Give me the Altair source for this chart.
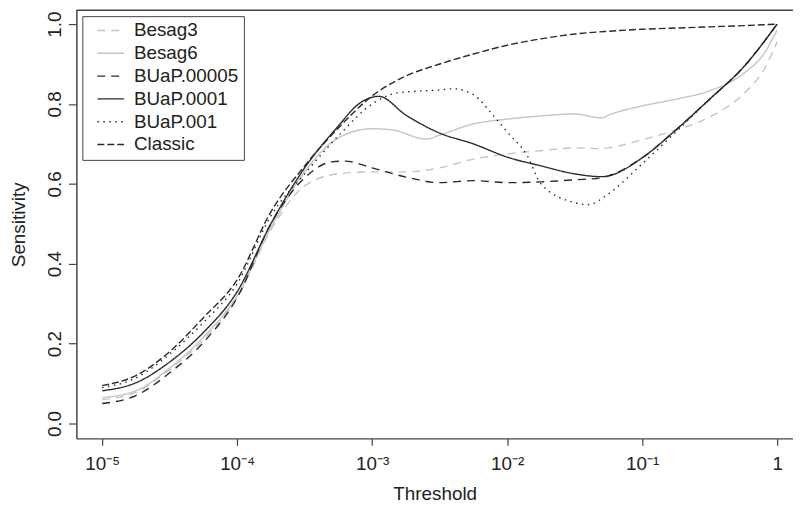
import altair as alt
import pandas as pd

# ---- data (x given as log10(threshold)) ----
series_names = ["Besag3", "Besag6", "BUaP.00005", "BUaP.0001", "BUaP.001", "Classic"]

besag3_x = [-5, -4.75, -4.5, -4.25, -4, -3.75, -3.5, -3.25, -3, -2.75, -2.5, -2.25, -2, -1.75, -1.5, -1.3, -1.25, -1, -0.75, -0.5, -0.25, -0.1, 0]
besag3_y = [0.06, 0.078, 0.135, 0.21, 0.315, 0.485, 0.595, 0.625, 0.63, 0.63, 0.64, 0.662, 0.675, 0.683, 0.69, 0.688, 0.69, 0.71, 0.735, 0.767, 0.825, 0.885, 0.955]

besag6_x = [-5, -4.75, -4.5, -4.25, -4, -3.75, -3.5, -3.25, -3, -2.85, -2.6, -2.5, -2.25, -2, -1.75, -1.5, -1.3, -1.25, -1, -0.75, -0.5, -0.25, -0.1, 0]
besag6_y = [0.065, 0.082, 0.139, 0.216, 0.32, 0.49, 0.63, 0.715, 0.738, 0.735, 0.712, 0.722, 0.75, 0.762, 0.77, 0.775, 0.765, 0.772, 0.795, 0.812, 0.833, 0.876, 0.925, 0.985]

buap00005_x = [-5, -4.75, -4.5, -4.25, -4, -3.75, -3.5, -3.3, -3.2, -3, -2.75, -2.5, -2.25, -2, -1.75, -1.5, -1.3, -1.25, -1, -0.75, -0.5, -0.25, 0]
buap00005_y = [0.05, 0.07, 0.127, 0.203, 0.315, 0.5, 0.615, 0.655, 0.657, 0.64, 0.617, 0.603, 0.608, 0.603, 0.605, 0.61, 0.615, 0.62, 0.665, 0.735, 0.812, 0.892, 1.0]

buap0001_x = [-5, -4.75, -4.5, -4.25, -4, -3.75, -3.5, -3.25, -3.1, -2.95, -2.75, -2.5, -2.25, -2, -1.75, -1.5, -1.3, -1.25, -1, -0.75, -0.5, -0.25, 0]
buap0001_y = [0.082, 0.102, 0.154, 0.228, 0.33, 0.5, 0.64, 0.745, 0.8, 0.819, 0.772, 0.727, 0.7, 0.667, 0.645, 0.625, 0.618, 0.62, 0.665, 0.735, 0.812, 0.892, 1.0]

buap001_x = [-5, -4.75, -4.5, -4.25, -4, -3.75, -3.5, -3.25, -3, -2.85, -2.75, -2.5, -2.4, -2.25, -2.1, -2, -1.85, -1.75, -1.5, -1.4, -1.25, -1, -0.75, -0.5, -0.25, 0]
buap001_y = [0.09, 0.114, 0.174, 0.253, 0.35, 0.52, 0.625, 0.72, 0.8, 0.825, 0.83, 0.835, 0.838, 0.823, 0.77, 0.73, 0.67, 0.6, 0.553, 0.548, 0.575, 0.65, 0.73, 0.812, 0.892, 1.0]

classic_x = [-5, -4.75, -4.5, -4.25, -4, -3.75, -3.5, -3.25, -3, -2.75, -2.5, -2.25, -2, -1.75, -1.5, -1.25, -1, -0.75, -0.5, -0.25, 0]
classic_y = [0.095, 0.12, 0.18, 0.265, 0.36, 0.53, 0.645, 0.74, 0.82, 0.87, 0.9, 0.925, 0.947, 0.963, 0.975, 0.982, 0.987, 0.99, 0.993, 0.996, 1.0]

x_tick_values = [1e-5, 1e-4, 1e-3, 1e-2, 1e-1, 1]
x_tick_labels = ["10⁻⁵", "10⁻⁴", "10⁻³", "10⁻²", "10⁻¹", "1"]
y_tick_values = [0.0, 0.2, 0.4, 0.6, 0.8, 1.0]

series_colors = ["#c4c4c4", "#c4c4c4", "#2a2a2a", "#2a2a2a", "#2a2a2a", "#2a2a2a"]
series_dashes = [[8, 6], [1, 0], [8, 6], [1, 0], [1.5, 4.5], [7, 3]]

# ---- build table ----
rows = []
for name, xs, ys in [
    ("Besag3", besag3_x, besag3_y),
    ("Besag6", besag6_x, besag6_y),
    ("BUaP.00005", buap00005_x, buap00005_y),
    ("BUaP.0001", buap0001_x, buap0001_y),
    ("BUaP.001", buap001_x, buap001_y),
    ("Classic", classic_x, classic_y),
]:
    for e, v in zip(xs, ys):
        rows.append({"series": name, "threshold": 10 ** e, "sensitivity": v})
df = pd.DataFrame(rows)

FONT = "Liberation Sans"
W, H = 723, 432
x_dom = [10 ** -5.1909, 10 ** 0.1175]
y_dom = [-0.0372, 1.0347]

label_expr = "[" + ",".join("'" + s + "'" for s in x_tick_labels) + "][round(log(datum.value)/LN10)+5]"

legend = alt.Legend(
    title=None, orient="none", legendX=6, legendY=6,
    symbolType="M0.096,0H3.79", symbolSize=213, symbolStrokeWidth=1.4,
    labelFont=FONT, labelFontSize=19, labelColor="#222", labelOffset=28,
    padding=5, rowPadding=3, strokeColor="#444", fillColor="white",
    labelLimit=300,
)

lines = alt.Chart(df).mark_line(interpolate="monotone", strokeWidth=1.4).encode(
    x=alt.X("threshold:Q",
            scale=alt.Scale(type="log", domain=x_dom, nice=False, zero=False),
            axis=alt.Axis(values=x_tick_values, labelExpr=label_expr, title="Threshold",
                          grid=False, tickSize=7, labelPadding=9, titlePadding=12)),
    y=alt.Y("sensitivity:Q",
            scale=alt.Scale(domain=y_dom, nice=False, zero=False),
            axis=alt.Axis(values=y_tick_values, format=".1f", title="Sensitivity",
                          grid=False, tickSize=8, labelAngle=-90, labelPadding=4,
                          titlePadding=17)),
    color=alt.Color("series:N", scale=alt.Scale(domain=series_names, range=series_colors), legend=legend),
    strokeDash=alt.StrokeDash("series:N", scale=alt.Scale(domain=series_names, range=series_dashes), legend=legend),
)

top_border = alt.Chart(pd.DataFrame({"a": [0]})).mark_rule(color="#444", strokeWidth=1.5).encode(
    x=alt.value(0), x2=alt.value(W), y=alt.value(0)
)

chart = alt.layer(lines, top_border).properties(
    width=W, height=H,
    autosize=alt.AutoSizeParams(type="none"),
    padding={"left": 69, "top": 0, "right": 0, "bottom": 66},
).configure_view(stroke=None).configure_axis(
    labelFont=FONT, titleFont=FONT, labelFontSize=19, titleFontSize=19,
    labelColor="#222", titleColor="#222", titleFontWeight="normal",
    domainColor="#444", tickColor="#444", domainWidth=1.5, tickWidth=1.2,
)

chart.save("out.html", embed_options={"renderer": "svg", "actions": False})
